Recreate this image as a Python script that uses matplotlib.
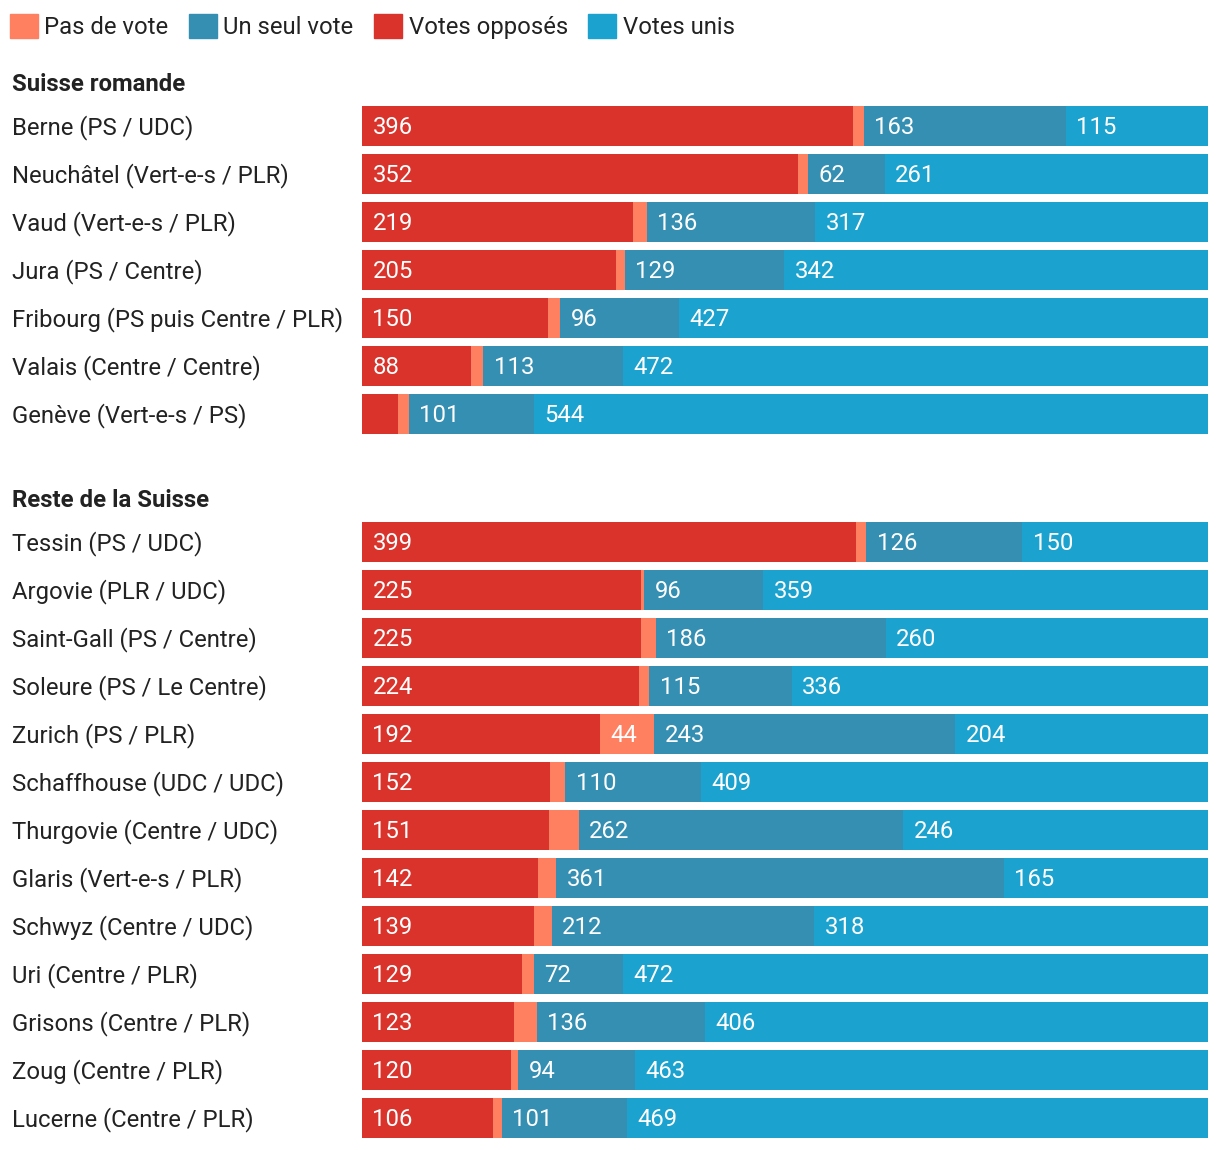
import matplotlib.pyplot as plt
import matplotlib.transforms as mtransforms
from matplotlib.patches import Patch

plt.rcParams['font.family'] = ['Roboto', 'DejaVu Sans']

# données
romande = ["Berne (PS / UDC)", "Neuchâtel (Vert-e-s / PLR)", "Vaud (Vert-e-s / PLR)",
           "Jura (PS / Centre)", "Fribourg (PS puis Centre / PLR)", "Valais (Centre / Centre)",
           "Genève (Vert-e-s / PS)"]
romande_opposes = [396, 352, 219, 205, 150, 88, 29]
romande_pas = [9, 8, 11, 7, 10, 10, 9]
romande_seul = [163, 62, 136, 129, 96, 113, 101]
romande_unis = [115, 261, 317, 342, 427, 472, 544]

reste = ["Tessin (PS / UDC)", "Argovie (PLR / UDC)", "Saint-Gall (PS / Centre)",
         "Soleure (PS / Le Centre)", "Zurich (PS / PLR)", "Schaffhouse (UDC / UDC)",
         "Thurgovie (Centre / UDC)", "Glaris (Vert-e-s / PLR)", "Schwyz (Centre / UDC)",
         "Uri (Centre / PLR)", "Grisons (Centre / PLR)", "Zoug (Centre / PLR)",
         "Lucerne (Centre / PLR)"]
reste_opposes = [399, 225, 225, 224, 192, 152, 151, 142, 139, 129, 123, 120, 106]
reste_pas = [8, 3, 12, 8, 44, 12, 24, 15, 14, 10, 18, 6, 7]
reste_seul = [126, 96, 186, 115, 243, 110, 262, 361, 212, 72, 136, 94, 101]
reste_unis = [150, 359, 260, 336, 204, 409, 246, 165, 318, 472, 406, 463, 469]

c_pas = "#FF7F61"
c_seul = "#348FB2"
c_opp = "#D9332B"
c_unis = "#1BA2CF"

fig = plt.figure(figsize=(12.2, 11.5), dpi=100)
W, H = 1220, 1150
ax = fig.add_axes([362 / W, 1 - 1138 / H, 846 / W, (1138 - 106) / H])

gap = 128 / 48
y_rom = list(range(len(romande)))
y_res = [len(romande) - 1 + gap + i for i in range(len(reste))]

names = romande + reste
ys = y_rom + y_res
opp = romande_opposes + reste_opposes
pas = romande_pas + reste_pas
seul = romande_seul + reste_seul
unis = romande_unis + reste_unis

fs = 17.2
h = 40 / 48
left = [0] * len(ys)
for vals, col in [(opp, c_opp), (pas, c_pas), (seul, c_seul), (unis, c_unis)]:
    ax.barh(ys, vals, left=left, height=h, color=col, linewidth=0)
    for y, l, v in zip(ys, left, vals):
        if v >= 40:
            ax.annotate(str(v), (l, y), xytext=(7.5, 0.8), textcoords='offset points',
                        va='center_baseline', ha='left', color='white', fontsize=fs)
    left = [a + b for a, b in zip(left, vals)]

ax.set_xlim(0, max(left))
ax.set_ylim(ys[-1] + h / 2, -h / 2)
ax.axis('off')

trans = mtransforms.blended_transform_factory(fig.transFigure, ax.transData)
for y, n in zip(ys, names):
    ax.annotate(n, (12 / W, y), xycoords=trans, xytext=(0, 0.8), textcoords='offset points',
                va='center_baseline', ha='left', fontsize=fs, color='#222222')

ax.text(12 / W, -44 / 48, "Suisse romande", transform=trans, va='center_baseline',
        ha='left', fontsize=fs, fontweight='bold', color='#222222')
ax.text(12 / W, y_res[0] - 44 / 48, "Reste de la Suisse", transform=trans,
        va='center_baseline', ha='left', fontsize=fs, fontweight='bold', color='#222222')

handles = [Patch(color=c_pas, label="Pas de vote"),
           Patch(color=c_seul, label="Un seul vote"),
           Patch(color=c_opp, label="Votes opposés"),
           Patch(color=c_unis, label="Votes unis")]
fig.legend(handles=handles, loc='upper left', bbox_to_anchor=(10 / W, 1 - 14 / H),
           ncol=4, frameon=False, fontsize=fs, handlelength=1.17, handleheight=1.17,
           handletextpad=0.27, columnspacing=0.86, borderpad=0, borderaxespad=0,
           labelcolor='#222222')

fig.savefig("out.png", dpi=100)
